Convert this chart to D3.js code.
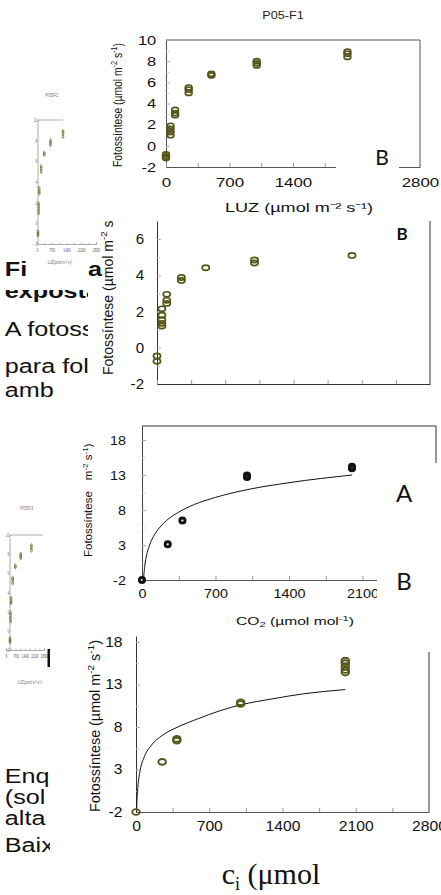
<!DOCTYPE html>
<html>
<head>
<meta charset="utf-8">
<script src="https://cdn.jsdelivr.net/npm/d3@7"></script>
<style>
body { margin: 0; background: #fff; }
svg { display: block; font-family: 'Liberation Sans', Arial, sans-serif; }
</style>
</head>
<body>
<svg width="441" height="895"></svg>
<script>
// curva de luz P05-F1 (painel de cima e miniaturas)
const luzX1 = [0, 0, 0, 50, 50, 50, 50, 100, 100, 100, 250, 250, 250, 500, 500, 1000, 1000, 1000, 2000, 2000, 2000]
const fotoLuz1 = [-1.15, -1.0, -0.8, 1.0, 1.3, 1.6, 1.9, 2.9, 3.1, 3.4, 5.0, 5.3, 5.5, 6.65, 6.8, 7.6, 7.8, 8.0, 8.4, 8.7, 8.9]

// segunda curva de luz
const luzX2 = [0, 0, 50, 50, 50, 50, 50, 100, 100, 100, 250, 250, 500, 1000, 1000, 2000]
const fotoLuz2 = [-0.45, -0.75, 2.15, 1.8, 1.55, 1.35, 1.2, 2.95, 2.62, 2.45, 3.88, 3.72, 4.42, 4.85, 4.68, 5.1]

// curva de CO2, painel A
const co2XA = [0, 245, 385, 1000, 1000, 2000, 2000]
const fotoCO2A = [-2, 3.1, 6.5, 12.95, 12.7, 14.2, 13.95]
const ajusteXA = [14, 20, 30, 50, 80, 120, 180, 250, 350, 500, 700, 1000, 1400, 2000]
const ajusteYA = [-2, -0.9, 0.4, 1.9, 3.3, 4.5, 5.7, 6.7, 7.7, 8.8, 9.8, 10.9, 11.9, 13.0]

// curva de CO2, painel B
const co2XB = [0, 250, 390, 390, 1000, 1000, 2000, 2000, 2000, 2000, 2000]
const fotoCO2B = [-2, 3.9, 6.6, 6.4, 10.9, 10.7, 15.8, 15.5, 15.1, 14.7, 14.4]
const ajusteXB = [5, 10, 20, 40, 80, 150, 250, 400, 600, 800, 1000, 1300, 1600, 2000]
const ajusteYB = [-2, -0.4, 1.2, 2.9, 4.5, 5.9, 7.0, 8.0, 9.0, 9.9, 10.6, 11.3, 11.9, 12.4]

const xTicks = [0, 700, 1400, 2100, 2800]
const xMinor = [350, 1050, 1750, 2450]
const yTicksLuz1 = [-2, 0, 2, 4, 6, 8, 10]
const yMinorLuz1 = [-1, 1, 3, 5, 7, 9]
const yTicksLuz2 = [-2, 0, 2, 4, 6]
const yMinorLuz2 = [-1, 1, 3, 5]
const yTicksCO2 = [-2, 3, 8, 13, 18]
const yMinorCO2 = [0.5, 5.5, 10.5, 15.5]

const olive = '#55561a'
const fmt = d => String(d)
const svg = d3.select('svg')

// ---------- helpers
function yAxis(g, y, ticks, minor, o) {
	let a = g.append('g').attr('transform', `translate(${o.x},0)`)
	.call(d3.axisLeft(y).tickValues(ticks).tickFormat(fmt).tickSizeInner(-4).tickSizeOuter(0).tickPadding(o.pad))
	a.attr('font-family', null).attr('font-size', null)
	a.select('.domain').attr('stroke', o.line || '#444')
	a.selectAll('.tick line').attr('stroke', '#aaa')
	a.selectAll('.tick text').attr('font-size', o.fs).attr('fill', '#111')
	.attr('transform', `scale(${o.sx},1)`)
	let m = g.append('g').attr('transform', `translate(${o.x},0)`)
	.call(d3.axisLeft(y).tickValues(minor).tickSize(-3).tickFormat(''))
	m.select('.domain').remove()
	m.selectAll('line').attr('stroke', '#bbb')
}

function xAxis(g, x, ticks, minor, o) {
	let a = g.append('g').attr('transform', `translate(0,${o.y})`)
	.call(d3.axisBottom(x).tickValues(ticks).tickFormat(fmt).tickSizeInner(-4).tickSizeOuter(0).tickPadding(o.pad))
	a.attr('font-family', null).attr('font-size', null)
	a.select('.domain').attr('stroke', o.line || '#444')
	a.selectAll('.tick line').attr('stroke', '#999')
	a.selectAll('.tick text').attr('font-size', o.fs).attr('fill', '#111')
	.attr('transform', `scale(${o.sx},1)`)
	if (o.noLabels) a.selectAll('.tick text').remove()
	let m = g.append('g').attr('transform', `translate(0,${o.y})`)
	.call(d3.axisBottom(x).tickValues(minor).tickSize(-4).tickFormat(''))
	m.select('.domain').remove()
	m.selectAll('line').attr('stroke', '#999')
}

function rings(g, xs, ys, x, y, o) {
	g.append('g').selectAll('ellipse')
	.data(xs).enter()
	.append('ellipse')
	.attr('cx', d => x(d))
	.attr('cy', (d, i) => y(ys[i]))
	.attr('rx', o.rx).attr('ry', o.ry)
	.attr('fill', 'none')
	.attr('stroke', o.stroke)
	.attr('stroke-width', o.sw)
}

function yLabel(g, x, y, size, parts, len) {
	let t = g.append('text')
	.attr('transform', `translate(${x},${y}) rotate(-90)`)
	.attr('font-size', size).attr('fill', '#111')
	parts.forEach(p => {
		t.append('tspan').text(p[0])
		.attr('font-size', p[1] ? size * 0.7 : null)
		.attr('dy', p[1] ? -size * 0.4 : (p[2] ? size * 0.4 : null))
	})
	if (len) t.attr('textLength', len).attr('lengthAdjust', 'spacingAndGlyphs')
	return t
}

const fotoParts = [['Fotossíntese (µmol m'], ['-2', 1], [' s', 0, 1], ['-1', 1], [')', 0, 1]]

// ---------- texto do slide (fica por baixo)
const body = svg.append('g').attr('fill', '#111').attr('font-size', 21).attr('transform', 'scale(1.2,1)')
body.append('text').attr('x', 4).attr('y', 298).attr('font-weight', 'bold').text('expostas')
body.append('rect').attr('x', 0).attr('y', 262).attr('width', 90).attr('height', 28).attr('fill', '#fff')
body.append('text').attr('x', 4).attr('y', 276).attr('font-weight', 'bold').text('Fi')
body.append('text').attr('x', 4).attr('y', 336).text('A fotossíntese')
body.append('text').attr('x', 4).attr('y', 373).text('para folhas')
body.append('text').attr('x', 4).attr('y', 397).text('amb')
body.append('text').attr('x', 4).attr('y', 783).text('Enquanto')
body.append('text').attr('x', 4).attr('y', 804).text('(sol pleno)')
body.append('text').attr('x', 4).attr('y', 825).text('alta')
body.append('text').attr('x', 4).attr('y', 852).text('Baixa')

// ---------- miniaturas da curva de luz
function thumb(o) {
	let g = svg.append('g')
	if (o.bg) g.append('rect').attr('x', o.bg[0]).attr('y', o.bg[1]).attr('width', o.bg[2]).attr('height', o.bg[3]).attr('fill', '#fff')
	let x = d3.scaleLinear().domain([0, 2800]).range([o.x0, o.x1])
	let xl = d3.scaleLinear().domain([0, 2800]).range([o.l0, o.l1])
	let y = d3.scaleLinear().domain([-2, 10]).range([o.y0, o.y1])
	g.append('text').attr('x', o.tx).attr('y', o.ty).attr('font-size', 4.5).attr('fill', '#777').attr('text-anchor', 'middle').text('P05F1')
	g.append('line').attr('x1', o.x0).attr('x2', o.x0).attr('y1', o.y0).attr('y2', o.y1).attr('stroke', '#777').attr('stroke-width', 0.6)
	g.append('line').attr('x1', o.x0).attr('x2', o.top).attr('y1', o.y1).attr('y2', o.y1).attr('stroke', '#777').attr('stroke-width', 0.6)
	let a = g.append('g').attr('transform', `translate(0,${o.y0})`)
	.call(d3.axisBottom(xl).tickValues(xTicks.concat(xMinor)).tickSize(-1.5).tickPadding(3)
	.tickFormat(d => xTicks.includes(d) ? d : ''))
	a.attr('font-family', null).attr('font-size', null)
	a.select('.domain').attr('stroke', '#777').attr('stroke-width', 0.6)
	a.selectAll('line').attr('stroke', '#777').attr('stroke-width', 0.5)
	a.selectAll('text').attr('font-size', 5.5).attr('fill', '#555').attr('transform', 'scale(0.6,1.1)')
	let b = g.append('g').attr('transform', `translate(${o.x0},0)`)
	.call(d3.axisLeft(y).tickValues(yTicksLuz1).tickSize(-1).tickPadding(1.5))
	b.attr('font-family', null).attr('font-size', null)
	b.select('.domain').remove()
	b.selectAll('line').attr('stroke', '#999').attr('stroke-width', 0.5)
	b.selectAll('text').attr('font-size', 5).attr('fill', '#666').attr('transform', 'scale(0.6,1)')
	g.append('text').attr('x', o.lx).attr('y', o.ly).attr('font-size', 4.5).attr('fill', '#666')
	.attr('text-anchor', 'middle').attr('transform', `translate(${o.lx},${o.ly}) scale(0.7,1.2) translate(${-o.lx},${-o.ly})`)
	.text('LUZ(µmol m⁻² s⁻¹)')
	rings(g, luzX1, fotoLuz1, x, y, {rx: 0.8, ry: 1.8, stroke: '#6b6b2a', sw: 0.8})
	return g
}

thumb({bg: [29, 85, 58, 198], x0: 38, x1: 73, y0: 244, y1: 120, top: 63, l0: 37, l1: 96, tx: 52, ty: 97, lx: 60, ly: 264})
let t2 = thumb({x0: 10, x1: 40, y0: 650, y1: 535, top: 43, l0: 6, l1: 44, tx: 27, ty: 510, lx: 30, ly: 684})
t2.append('rect').attr('x', 47.5).attr('y', 649).attr('width', 2.5).attr('height', 18).attr('fill', '#111')

// ---------- painel 2: curva de luz sem título
const g2 = svg.append('g')
g2.append('rect').attr('x', 100).attr('y', 205).attr('width', 341).attr('height', 205).attr('fill', '#fff')
g2.append('rect').attr('x', 88).attr('y', 280).attr('width', 12).attr('height', 130).attr('fill', '#fff')
const x2 = d3.scaleLinear().domain([0, 2800]).range([157, 430])
const y2 = d3.scaleLinear().domain([-2, 7]).range([384, 221])
g2.append('line').attr('x1', 430).attr('x2', 430).attr('y1', 221).attr('y2', 384).attr('stroke', '#333')
yAxis(g2, y2, yTicksLuz2, yMinorLuz2, {x: 157, pad: 12, fs: 14, sx: 1.08, line: '#333'})
xAxis(g2, x2, xTicks.concat(xMinor), [], {y: 384, pad: 8, fs: 14, sx: 1, noLabels: true, line: '#333'})
rings(g2, luzX2, fotoLuz2, x2, y2, {rx: 3.6, ry: 2.6, stroke: olive, sw: 1.7})
g2.append('text').attr('x', 402).attr('y', 240).attr('font-size', 17).attr('font-weight', 'bold')
.attr('font-family', 'Lato, sans-serif').attr('fill', '#111').attr('text-anchor', 'middle').text('B')
yLabel(g2, 113, 375, 14, fotoParts)

// ---------- painel 1: P05-F1
const g1 = svg.append('g')
g1.append('rect').attr('x', 100).attr('y', 0).attr('width', 341).attr('height', 221).attr('fill', '#fff')
const x1 = d3.scaleLinear().domain([0, 2800]).range([166, 420])
const y1 = d3.scaleLinear().domain([-2, 10]).range([167, 40])
g1.append('text').attr('x', 283).attr('y', 19).attr('font-size', 11).attr('text-anchor', 'middle')
.attr('fill', '#222').attr('transform', 'translate(283,0) scale(1.15,1) translate(-283,0)').text('P05-F1')
g1.append('path').attr('d', `M166,40H420V167`).attr('fill', 'none').attr('stroke', '#555')
yAxis(g1, y1, yTicksLuz1, yMinorLuz1, {x: 166, pad: 8, fs: 13.5, sx: 1.22, line: '#555'})
xAxis(g1, x1, xTicks, xMinor, {y: 167, pad: 10, fs: 13.5, sx: 1.25, line: '#555'})
rings(g1, luzX1, fotoLuz1, x1, y1, {rx: 3.4, ry: 2.5, stroke: olive, sw: 1.7})
g1.append('rect').attr('x', 336).attr('y', 132).attr('width', 63).attr('height', 60).attr('fill', '#fff')
g1.append('text').attr('x', 382).attr('y', 165).attr('font-size', 21).attr('font-family', 'Lato, sans-serif')
.attr('fill', '#111').attr('text-anchor', 'middle').text('B')
yLabel(g1, 122, 167, 13, fotoParts, 124)
g1.append('text').attr('x', 299).attr('y', 212).attr('font-size', 13).attr('fill', '#111')
.attr('text-anchor', 'middle').attr('textLength', 148).attr('lengthAdjust', 'spacingAndGlyphs')
.text('LUZ (µmol m⁻² s⁻¹)')

// ---------- painel 4: curva de CO2 (B)
const g4 = svg.append('g')
g4.append('rect').attr('x', 50).attr('y', 612).attr('width', 391).attr('height', 283).attr('fill', '#fff')
const x4 = d3.scaleLinear().domain([0, 2800]).range([136, 429])
const y4 = d3.scaleLinear().domain([-2, 18.7]).range([812, 636])
g4.append('line').attr('x1', 429).attr('x2', 429).attr('y1', 636).attr('y2', 812).attr('stroke', '#333')
yAxis(g4, y4, yTicksCO2, yMinorCO2, {x: 136, pad: 12, fs: 14, sx: 1.12, line: '#333'})
xAxis(g4, x4, xTicks, xMinor, {y: 812, pad: 9, fs: 14, sx: 1.12, line: '#555'})
g4.append('path').datum(ajusteXB)
.attr('d', d3.line().x(d => x4(d)).y((d, i) => y4(ajusteYB[i])).curve(d3.curveMonotoneX))
.attr('fill', 'none').attr('stroke', '#111').attr('stroke-width', 1)
rings(g4, co2XB, fotoCO2B, x4, y4, {rx: 3.8, ry: 2.9, stroke: olive, sw: 1.9})
yLabel(g4, 100, 812, 14, fotoParts, 172)

// ---------- painel 3: curva de CO2 (A)
const g3 = svg.append('g')
g3.append('rect').attr('x', 60).attr('y', 405).attr('width', 381).attr('height', 231).attr('fill', '#fff')
const x3 = d3.scaleLinear().domain([0, 2800]).range([142, 436])
const y3 = d3.scaleLinear().domain([-2, 20]).range([580, 426])
g3.append('path').attr('d', 'M142,426H436V463').attr('fill', 'none').attr('stroke', '#333')
yAxis(g3, y3, yTicksCO2, yMinorCO2, {x: 142, pad: 14, fs: 12.5, sx: 1.15, line: '#444'})
xAxis(g3, x3, xTicks, xMinor, {y: 580, pad: 9, fs: 12.5, sx: 1.15, line: '#555'})
g3.append('path').datum(ajusteXA)
.attr('d', d3.line().x(d => x3(d)).y((d, i) => y3(ajusteYA[i])).curve(d3.curveMonotoneX))
.attr('fill', 'none').attr('stroke', '#111').attr('stroke-width', 1)
rings(g3, co2XA, fotoCO2A, x3, y3, {rx: 2.6, ry: 2.5, stroke: '#111', sw: 2.9})
let l3 = g3.append('text').attr('transform', 'translate(92,557) rotate(-90)').attr('font-size', 11.5).attr('fill', '#111')
l3.append('tspan').text('Fotossíntese')
l3.append('tspan').attr('dx', 11).text('m')
l3.append('tspan').attr('dy', -4.5).attr('font-size', 8).text('-2')
l3.append('tspan').attr('dy', 4.5).text(' s')
l3.append('tspan').attr('dy', -4.5).attr('font-size', 8).text('-1')
l3.append('tspan').attr('dy', 4.5).text(')')
let co2 = g3.append('text').attr('x', 295).attr('y', 625).attr('font-size', 10.5).attr('fill', '#111')
.attr('text-anchor', 'middle').attr('textLength', 118).attr('lengthAdjust', 'spacingAndGlyphs')
co2.append('tspan').text('CO')
co2.append('tspan').attr('font-size', 7.5).attr('dy', 2).text('2')
co2.append('tspan').attr('dy', -2).text(' (µmol mol')
co2.append('tspan').attr('font-size', 7.5).attr('dy', -4).text('-1')
co2.append('tspan').attr('dy', 4).text(')')

// caixa branca com as letras A e B
svg.append('rect').attr('x', 377).attr('y', 463).attr('width', 64).attr('height', 189).attr('fill', '#fff')
svg.append('text').attr('x', 404).attr('y', 502).attr('font-size', 24).attr('font-family', 'Lato, sans-serif')
.attr('fill', '#111').attr('text-anchor', 'middle').text('A')
svg.append('text').attr('x', 404).attr('y', 590).attr('font-size', 24).attr('font-family', 'Lato, sans-serif')
.attr('fill', '#111').attr('text-anchor', 'middle').text('B')

// fragmento de texto por cima
svg.append('text').attr('x', 88).attr('y', 276).attr('font-size', 21).attr('font-weight', 'bold').attr('fill', '#111')
.attr('transform', 'translate(88,0) scale(1.2,1) translate(-88,0)').text('a')

// eixo grande do painel B
let ci = svg.append('text').attr('x', 271).attr('y', 884).attr('font-size', 30)
.attr('font-family', "'Liberation Serif', 'DejaVu Serif', serif").attr('fill', '#111').attr('text-anchor', 'middle')
ci.append('tspan').text('c')
ci.append('tspan').attr('font-size', 18).attr('dy', 6).text('i')
ci.append('tspan').attr('dy', -6).text(' (μmol')
</script>
</body>
</html>
